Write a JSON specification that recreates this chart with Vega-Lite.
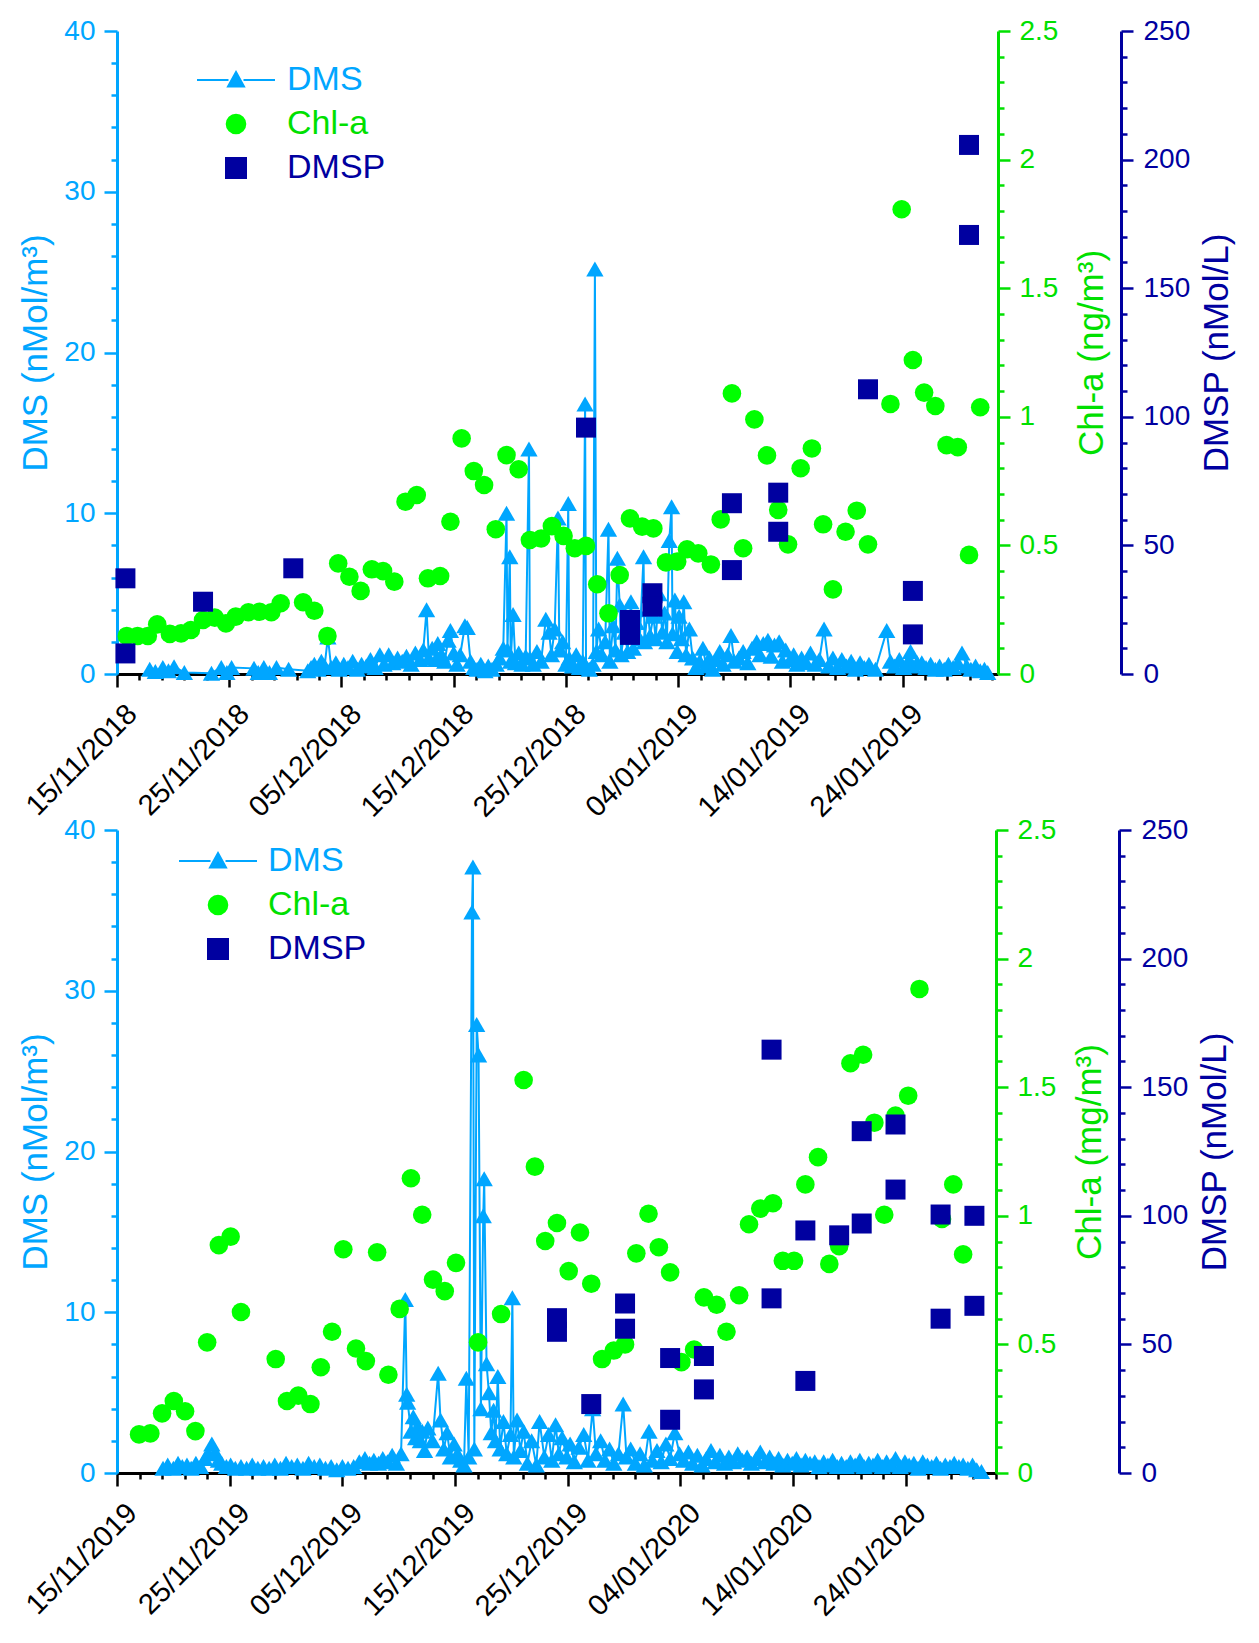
{
  "$schema": "https://vega.github.io/schema/vega-lite/v6.json",
  "background": "white",
  "padding": {"left": 18, "top": 17, "right": 5, "bottom": 5},
  "config": {
    "view": {"stroke": null},
    "font": "Liberation Sans",
    "axis": {
      "grid": false,
      "labelFont": "Liberation Sans",
      "titleFont": "Liberation Sans",
      "labelFontSize": 28,
      "titleFontSize": 35,
      "titleFontWeight": "normal",
      "domainWidth": 3,
      "tickWidth": 2.5,
      "labelOverlap": false,
      "labelFlush": false
    },
    "legend": {"labelFont": "Liberation Sans"}
  },
  "spacing": -7,
  "resolve": {"scale": {"color": "independent"}, "legend": {"color": "independent"}},
  "datasets": {
    "dmsTop": [
      {"t": "2018-11-17T22:00Z", "v": 0.3}, {"t": "2018-11-18T10:00Z", "v": 0.15}, {"t": "2018-11-19T02:00Z", "v": 0.4},
      {"t": "2018-11-19T14:00Z", "v": 0.2}, {"t": "2018-11-20T02:00Z", "v": 0.45}, {"t": "2018-11-21T00:00Z", "v": 0.1},
      {"t": "2018-11-23T10:00Z", "v": 0.05}, {"t": "2018-11-24T07:00Z", "v": 0.4}, {"t": "2018-11-24T19:00Z", "v": 0.1},
      {"t": "2018-11-25T05:00Z", "v": 0.4}, {"t": "2018-11-27T05:00Z", "v": 0.35}, {"t": "2018-11-27T14:00Z", "v": 0.1},
      {"t": "2018-11-28T02:00Z", "v": 0.4}, {"t": "2018-11-28T14:00Z", "v": 0.1}, {"t": "2018-11-29T05:00Z", "v": 0.4},
      {"t": "2018-11-30T07:00Z", "v": 0.3}, {"t": "2018-12-02T00:00Z", "v": 0.2}, {"t": "2018-12-02T07:00Z", "v": 0.4},
      {"t": "2018-12-02T14:00Z", "v": 0.6}, {"t": "2018-12-02T22:00Z", "v": 0.3}, {"t": "2018-12-03T05:00Z", "v": 0.8},
      {"t": "2018-12-03T12:00Z", "v": 0.5}, {"t": "2018-12-03T19:00Z", "v": 2.3}, {"t": "2018-12-04T02:00Z", "v": 0.4},
      {"t": "2018-12-04T12:00Z", "v": 0.7}, {"t": "2018-12-04T19:00Z", "v": 0.3}, {"t": "2018-12-05T05:00Z", "v": 0.6},
      {"t": "2018-12-05T14:00Z", "v": 0.4}, {"t": "2018-12-06T00:00Z", "v": 0.8}, {"t": "2018-12-06T10:00Z", "v": 0.3},
      {"t": "2018-12-06T19:00Z", "v": 0.6}, {"t": "2018-12-07T05:00Z", "v": 0.5}, {"t": "2018-12-07T14:00Z", "v": 0.9},
      {"t": "2018-12-08T00:00Z", "v": 0.4}, {"t": "2018-12-08T10:00Z", "v": 1.2}, {"t": "2018-12-08T19:00Z", "v": 0.6},
      {"t": "2018-12-09T05:00Z", "v": 1.2}, {"t": "2018-12-09T14:00Z", "v": 0.7}, {"t": "2018-12-10T00:00Z", "v": 1.0},
      {"t": "2018-12-10T10:00Z", "v": 0.8}, {"t": "2018-12-10T19:00Z", "v": 1.1}, {"t": "2018-12-11T05:00Z", "v": 0.6},
      {"t": "2018-12-11T14:00Z", "v": 1.3}, {"t": "2018-12-12T00:00Z", "v": 0.9}, {"t": "2018-12-12T07:00Z", "v": 1.5},
      {"t": "2018-12-12T14:00Z", "v": 4.0}, {"t": "2018-12-12T19:00Z", "v": 1.0}, {"t": "2018-12-13T02:00Z", "v": 1.6},
      {"t": "2018-12-13T10:00Z", "v": 0.9}, {"t": "2018-12-13T14:00Z", "v": 1.9}, {"t": "2018-12-13T22:00Z", "v": 1.2},
      {"t": "2018-12-14T05:00Z", "v": 0.8}, {"t": "2018-12-14T12:00Z", "v": 2.1}, {"t": "2018-12-14T17:00Z", "v": 2.7},
      {"t": "2018-12-15T00:00Z", "v": 1.3}, {"t": "2018-12-15T07:00Z", "v": 0.6}, {"t": "2018-12-15T14:00Z", "v": 1.2},
      {"t": "2018-12-16T00:00Z", "v": 3.0}, {"t": "2018-12-16T05:00Z", "v": 2.9}, {"t": "2018-12-16T12:00Z", "v": 0.8},
      {"t": "2018-12-16T19:00Z", "v": 0.4}, {"t": "2018-12-17T02:00Z", "v": 0.3}, {"t": "2018-12-17T10:00Z", "v": 0.6},
      {"t": "2018-12-17T19:00Z", "v": 0.2}, {"t": "2018-12-18T02:00Z", "v": 0.5}, {"t": "2018-12-18T10:00Z", "v": 0.3},
      {"t": "2018-12-18T19:00Z", "v": 0.6}, {"t": "2018-12-19T02:00Z", "v": 1.0}, {"t": "2018-12-19T10:00Z", "v": 1.6},
      {"t": "2018-12-19T17:00Z", "v": 10.0}, {"t": "2018-12-19T19:00Z", "v": 1.5}, {"t": "2018-12-20T00:00Z", "v": 7.3},
      {"t": "2018-12-20T02:00Z", "v": 0.8}, {"t": "2018-12-20T07:00Z", "v": 3.7}, {"t": "2018-12-20T12:00Z", "v": 0.7},
      {"t": "2018-12-20T19:00Z", "v": 1.3}, {"t": "2018-12-21T02:00Z", "v": 0.6}, {"t": "2018-12-21T10:00Z", "v": 1.1},
      {"t": "2018-12-21T17:00Z", "v": 14.0}, {"t": "2018-12-21T19:00Z", "v": 1.0}, {"t": "2018-12-22T02:00Z", "v": 0.6},
      {"t": "2018-12-22T10:00Z", "v": 1.4}, {"t": "2018-12-22T19:00Z", "v": 0.8}, {"t": "2018-12-23T05:00Z", "v": 3.4},
      {"t": "2018-12-23T12:00Z", "v": 2.6}, {"t": "2018-12-23T17:00Z", "v": 1.2}, {"t": "2018-12-24T00:00Z", "v": 2.8},
      {"t": "2018-12-24T07:00Z", "v": 9.7}, {"t": "2018-12-24T10:00Z", "v": 1.5}, {"t": "2018-12-24T17:00Z", "v": 2.0},
      {"t": "2018-12-25T00:00Z", "v": 0.6}, {"t": "2018-12-25T05:00Z", "v": 10.6}, {"t": "2018-12-25T07:00Z", "v": 1.0},
      {"t": "2018-12-25T14:00Z", "v": 0.5}, {"t": "2018-12-25T22:00Z", "v": 1.2}, {"t": "2018-12-26T05:00Z", "v": 0.4},
      {"t": "2018-12-26T12:00Z", "v": 0.8}, {"t": "2018-12-26T17:00Z", "v": 16.8}, {"t": "2018-12-26T19:00Z", "v": 0.5},
      {"t": "2018-12-27T02:00Z", "v": 0.3}, {"t": "2018-12-27T10:00Z", "v": 0.6}, {"t": "2018-12-27T14:00Z", "v": 25.2},
      {"t": "2018-12-27T17:00Z", "v": 1.4}, {"t": "2018-12-27T22:00Z", "v": 2.8}, {"t": "2018-12-28T05:00Z", "v": 1.2},
      {"t": "2018-12-28T12:00Z", "v": 2.0}, {"t": "2018-12-28T19:00Z", "v": 9.0}, {"t": "2018-12-28T22:00Z", "v": 0.8},
      {"t": "2018-12-29T05:00Z", "v": 3.0}, {"t": "2018-12-29T10:00Z", "v": 1.5}, {"t": "2018-12-29T14:00Z", "v": 7.2},
      {"t": "2018-12-29T19:00Z", "v": 4.3}, {"t": "2018-12-29T22:00Z", "v": 1.2}, {"t": "2018-12-30T05:00Z", "v": 2.6},
      {"t": "2018-12-30T12:00Z", "v": 1.4}, {"t": "2018-12-30T19:00Z", "v": 4.5}, {"t": "2018-12-31T00:00Z", "v": 1.6},
      {"t": "2018-12-31T07:00Z", "v": 3.2}, {"t": "2018-12-31T14:00Z", "v": 2.2}, {"t": "2018-12-31T22:00Z", "v": 7.3},
      {"t": "2019-01-01T00:00Z", "v": 2.0}, {"t": "2019-01-01T07:00Z", "v": 4.0}, {"t": "2019-01-01T12:00Z", "v": 2.4},
      {"t": "2019-01-01T19:00Z", "v": 3.6}, {"t": "2019-01-02T00:00Z", "v": 2.2}, {"t": "2019-01-02T07:00Z", "v": 5.0},
      {"t": "2019-01-02T14:00Z", "v": 2.6}, {"t": "2019-01-02T19:00Z", "v": 3.8}, {"t": "2019-01-03T00:00Z", "v": 2.0},
      {"t": "2019-01-03T05:00Z", "v": 8.3}, {"t": "2019-01-03T10:00Z", "v": 10.4}, {"t": "2019-01-03T12:00Z", "v": 2.5},
      {"t": "2019-01-03T17:00Z", "v": 4.6}, {"t": "2019-01-03T22:00Z", "v": 1.4}, {"t": "2019-01-04T02:00Z", "v": 3.6},
      {"t": "2019-01-04T07:00Z", "v": 2.2}, {"t": "2019-01-04T12:00Z", "v": 4.5}, {"t": "2019-01-04T17:00Z", "v": 1.2},
      {"t": "2019-01-05T00:00Z", "v": 2.8}, {"t": "2019-01-05T07:00Z", "v": 1.0}, {"t": "2019-01-05T14:00Z", "v": 0.4},
      {"t": "2019-01-05T22:00Z", "v": 0.8}, {"t": "2019-01-06T05:00Z", "v": 1.6}, {"t": "2019-01-06T12:00Z", "v": 0.5},
      {"t": "2019-01-06T19:00Z", "v": 1.0}, {"t": "2019-01-07T02:00Z", "v": 0.3}, {"t": "2019-01-07T10:00Z", "v": 0.9},
      {"t": "2019-01-07T17:00Z", "v": 1.4}, {"t": "2019-01-08T00:00Z", "v": 0.6}, {"t": "2019-01-08T10:00Z", "v": 1.2},
      {"t": "2019-01-08T17:00Z", "v": 2.4}, {"t": "2019-01-09T00:00Z", "v": 0.8}, {"t": "2019-01-09T10:00Z", "v": 1.0},
      {"t": "2019-01-09T19:00Z", "v": 1.4}, {"t": "2019-01-10T05:00Z", "v": 0.7}, {"t": "2019-01-10T14:00Z", "v": 1.6},
      {"t": "2019-01-11T00:00Z", "v": 2.0}, {"t": "2019-01-11T07:00Z", "v": 1.2}, {"t": "2019-01-11T14:00Z", "v": 1.9},
      {"t": "2019-01-12T00:00Z", "v": 2.1}, {"t": "2019-01-12T07:00Z", "v": 1.1}, {"t": "2019-01-12T14:00Z", "v": 1.8},
      {"t": "2019-01-13T00:00Z", "v": 2.0}, {"t": "2019-01-13T07:00Z", "v": 0.8}, {"t": "2019-01-13T14:00Z", "v": 1.5},
      {"t": "2019-01-14T00:00Z", "v": 0.9}, {"t": "2019-01-14T07:00Z", "v": 1.2}, {"t": "2019-01-14T14:00Z", "v": 0.6},
      {"t": "2019-01-15T00:00Z", "v": 1.0}, {"t": "2019-01-15T10:00Z", "v": 0.7}, {"t": "2019-01-15T19:00Z", "v": 1.3},
      {"t": "2019-01-16T05:00Z", "v": 0.6}, {"t": "2019-01-16T14:00Z", "v": 0.9}, {"t": "2019-01-17T00:00Z", "v": 2.8},
      {"t": "2019-01-17T10:00Z", "v": 0.5}, {"t": "2019-01-17T19:00Z", "v": 1.0}, {"t": "2019-01-18T05:00Z", "v": 0.4},
      {"t": "2019-01-18T14:00Z", "v": 0.9}, {"t": "2019-01-19T00:00Z", "v": 0.5}, {"t": "2019-01-19T10:00Z", "v": 0.8},
      {"t": "2019-01-19T19:00Z", "v": 0.3}, {"t": "2019-01-20T05:00Z", "v": 0.7}, {"t": "2019-01-20T14:00Z", "v": 0.4},
      {"t": "2019-01-21T00:00Z", "v": 0.6}, {"t": "2019-01-21T14:00Z", "v": 0.3}, {"t": "2019-01-22T14:00Z", "v": 2.7},
      {"t": "2019-01-22T22:00Z", "v": 0.8}, {"t": "2019-01-23T07:00Z", "v": 0.5}, {"t": "2019-01-23T17:00Z", "v": 0.9},
      {"t": "2019-01-24T02:00Z", "v": 0.4}, {"t": "2019-01-24T12:00Z", "v": 0.8}, {"t": "2019-01-24T17:00Z", "v": 1.4},
      {"t": "2019-01-24T22:00Z", "v": 0.5}, {"t": "2019-01-25T07:00Z", "v": 0.7}, {"t": "2019-01-25T17:00Z", "v": 0.7},
      {"t": "2019-01-26T02:00Z", "v": 0.4}, {"t": "2019-01-26T12:00Z", "v": 0.6}, {"t": "2019-01-26T22:00Z", "v": 0.3},
      {"t": "2019-01-27T07:00Z", "v": 0.5}, {"t": "2019-01-27T17:00Z", "v": 0.3}, {"t": "2019-01-28T02:00Z", "v": 0.6},
      {"t": "2019-01-28T12:00Z", "v": 0.4}, {"t": "2019-01-28T22:00Z", "v": 0.7}, {"t": "2019-01-29T07:00Z", "v": 1.3},
      {"t": "2019-01-29T17:00Z", "v": 0.5}, {"t": "2019-01-30T02:00Z", "v": 0.3}, {"t": "2019-01-30T12:00Z", "v": 0.5},
      {"t": "2019-01-30T22:00Z", "v": 0.2}, {"t": "2019-01-31T07:00Z", "v": 0.3}, {"t": "2019-01-31T14:00Z", "v": 0.1}
    ],
    "chlTop": [
      {"t": "2018-11-15T21:00Z", "v": 0.148}, {"t": "2018-11-16T20:00Z", "v": 0.148}, {"t": "2018-11-17T18:00Z", "v": 0.148},
      {"t": "2018-11-18T14:00Z", "v": 0.193}, {"t": "2018-11-19T17:00Z", "v": 0.156}, {"t": "2018-11-20T17:00Z", "v": 0.158},
      {"t": "2018-11-21T14:00Z", "v": 0.171}, {"t": "2018-11-22T16:00Z", "v": 0.21}, {"t": "2018-11-23T17:00Z", "v": 0.219},
      {"t": "2018-11-24T17:00Z", "v": 0.197}, {"t": "2018-11-25T14:00Z", "v": 0.223}, {"t": "2018-11-26T17:00Z", "v": 0.24},
      {"t": "2018-11-27T17:00Z", "v": 0.242}, {"t": "2018-11-28T18:00Z", "v": 0.24}, {"t": "2018-11-29T14:00Z", "v": 0.275},
      {"t": "2018-12-01T14:00Z", "v": 0.279}, {"t": "2018-12-02T14:00Z", "v": 0.246}, {"t": "2018-12-03T18:00Z", "v": 0.148},
      {"t": "2018-12-04T17:00Z", "v": 0.43}, {"t": "2018-12-05T17:00Z", "v": 0.378}, {"t": "2018-12-06T17:00Z", "v": 0.323},
      {"t": "2018-12-07T17:00Z", "v": 0.407}, {"t": "2018-12-08T17:00Z", "v": 0.4}, {"t": "2018-12-09T17:00Z", "v": 0.359},
      {"t": "2018-12-10T17:00Z", "v": 0.67}, {"t": "2018-12-11T17:00Z", "v": 0.696}, {"t": "2018-12-12T17:00Z", "v": 0.372},
      {"t": "2018-12-13T19:00Z", "v": 0.381}, {"t": "2018-12-14T17:00Z", "v": 0.592}, {"t": "2018-12-15T17:00Z", "v": 0.916},
      {"t": "2018-12-16T19:00Z", "v": 0.789}, {"t": "2018-12-17T17:00Z", "v": 0.735}, {"t": "2018-12-18T18:00Z", "v": 0.563},
      {"t": "2018-12-19T17:00Z", "v": 0.851}, {"t": "2018-12-20T19:00Z", "v": 0.796}, {"t": "2018-12-21T19:00Z", "v": 0.521},
      {"t": "2018-12-22T19:00Z", "v": 0.527}, {"t": "2018-12-23T18:00Z", "v": 0.575}, {"t": "2018-12-24T19:00Z", "v": 0.537},
      {"t": "2018-12-25T19:00Z", "v": 0.489}, {"t": "2018-12-26T19:00Z", "v": 0.498}, {"t": "2018-12-27T19:00Z", "v": 0.349},
      {"t": "2018-12-28T19:00Z", "v": 0.236}, {"t": "2018-12-29T19:00Z", "v": 0.385}, {"t": "2018-12-30T17:00Z", "v": 0.605},
      {"t": "2018-12-31T19:00Z", "v": 0.573}, {"t": "2019-01-01T19:00Z", "v": 0.566}, {"t": "2019-01-02T22:00Z", "v": 0.434},
      {"t": "2019-01-03T22:00Z", "v": 0.437}, {"t": "2019-01-04T19:00Z", "v": 0.485}, {"t": "2019-01-05T19:00Z", "v": 0.469},
      {"t": "2019-01-06T22:00Z", "v": 0.426}, {"t": "2019-01-07T19:00Z", "v": 0.601}, {"t": "2019-01-08T19:00Z", "v": 1.091},
      {"t": "2019-01-09T19:00Z", "v": 0.489}, {"t": "2019-01-10T19:00Z", "v": 0.99}, {"t": "2019-01-11T22:00Z", "v": 0.85},
      {"t": "2019-01-12T22:00Z", "v": 0.638}, {"t": "2019-01-13T19:00Z", "v": 0.504}, {"t": "2019-01-14T22:00Z", "v": 0.8},
      {"t": "2019-01-15T22:00Z", "v": 0.877}, {"t": "2019-01-16T22:00Z", "v": 0.582}, {"t": "2019-01-17T19:00Z", "v": 0.329},
      {"t": "2019-01-18T22:00Z", "v": 0.553}, {"t": "2019-01-19T22:00Z", "v": 0.635}, {"t": "2019-01-20T22:00Z", "v": 0.504},
      {"t": "2019-01-22T22:00Z", "v": 1.05}, {"t": "2019-01-23T22:00Z", "v": 1.807}, {"t": "2019-01-24T22:00Z", "v": 1.221},
      {"t": "2019-01-25T22:00Z", "v": 1.094}, {"t": "2019-01-26T22:00Z", "v": 1.042}, {"t": "2019-01-27T22:00Z", "v": 0.89},
      {"t": "2019-01-28T22:00Z", "v": 0.882}, {"t": "2019-01-29T22:00Z", "v": 0.463}, {"t": "2019-01-30T22:00Z", "v": 1.037}
    ],
    "dmspTop": [
      {"t": "2018-11-15T18:00Z", "v": 37.2}, {"t": "2018-11-15T18:00Z", "v": 8.0}, {"t": "2018-11-22T16:00Z", "v": 28.1},
      {"t": "2018-11-30T17:00Z", "v": 41.1}, {"t": "2018-12-26T19:00Z", "v": 95.8}, {"t": "2018-12-30T17:00Z", "v": 21},
      {"t": "2018-12-30T17:00Z", "v": 15.2}, {"t": "2019-01-01T17:00Z", "v": 31.4}, {"t": "2019-01-01T17:00Z", "v": 26.2},
      {"t": "2019-01-08T19:00Z", "v": 66.4}, {"t": "2019-01-08T19:00Z", "v": 40.4}, {"t": "2019-01-12T22:00Z", "v": 70.5},
      {"t": "2019-01-12T22:00Z", "v": 55.3}, {"t": "2019-01-20T22:00Z", "v": 110.7}, {"t": "2019-01-24T22:00Z", "v": 32.3},
      {"t": "2019-01-24T22:00Z", "v": 15.4}, {"t": "2019-01-29T22:00Z", "v": 205.7}, {"t": "2019-01-29T22:00Z", "v": 170.7}
    ],
    "dmsBot": [
      {"t": "2019-11-19T02:00Z", "v": 0.3}, {"t": "2019-11-19T12:00Z", "v": 0.5}, {"t": "2019-11-20T00:00Z", "v": 0.3},
      {"t": "2019-11-20T10:00Z", "v": 0.6}, {"t": "2019-11-20T19:00Z", "v": 0.4}, {"t": "2019-11-21T05:00Z", "v": 0.5},
      {"t": "2019-11-21T14:00Z", "v": 0.3}, {"t": "2019-11-22T00:00Z", "v": 0.6}, {"t": "2019-11-22T10:00Z", "v": 0.4},
      {"t": "2019-11-22T19:00Z", "v": 0.9}, {"t": "2019-11-23T02:00Z", "v": 1.2}, {"t": "2019-11-23T10:00Z", "v": 1.8},
      {"t": "2019-11-23T17:00Z", "v": 1.3}, {"t": "2019-11-24T00:00Z", "v": 0.8}, {"t": "2019-11-24T07:00Z", "v": 0.6},
      {"t": "2019-11-24T17:00Z", "v": 0.4}, {"t": "2019-11-25T02:00Z", "v": 0.5}, {"t": "2019-11-25T12:00Z", "v": 0.3},
      {"t": "2019-11-26T00:00Z", "v": 0.4}, {"t": "2019-11-26T12:00Z", "v": 0.3}, {"t": "2019-11-27T00:00Z", "v": 0.5},
      {"t": "2019-11-27T12:00Z", "v": 0.3}, {"t": "2019-11-28T00:00Z", "v": 0.4}, {"t": "2019-11-28T12:00Z", "v": 0.3},
      {"t": "2019-11-29T00:00Z", "v": 0.5}, {"t": "2019-11-29T12:00Z", "v": 0.3}, {"t": "2019-11-30T00:00Z", "v": 0.6},
      {"t": "2019-11-30T12:00Z", "v": 0.4}, {"t": "2019-12-01T00:00Z", "v": 0.5}, {"t": "2019-12-01T12:00Z", "v": 0.3},
      {"t": "2019-12-02T00:00Z", "v": 0.6}, {"t": "2019-12-02T12:00Z", "v": 0.4}, {"t": "2019-12-03T00:00Z", "v": 0.5},
      {"t": "2019-12-03T12:00Z", "v": 0.3}, {"t": "2019-12-04T00:00Z", "v": 0.4}, {"t": "2019-12-04T12:00Z", "v": 0.2},
      {"t": "2019-12-05T00:00Z", "v": 0.4}, {"t": "2019-12-05T12:00Z", "v": 0.3}, {"t": "2019-12-06T00:00Z", "v": 0.4},
      {"t": "2019-12-06T12:00Z", "v": 0.7}, {"t": "2019-12-07T00:00Z", "v": 0.9}, {"t": "2019-12-07T10:00Z", "v": 0.6},
      {"t": "2019-12-07T19:00Z", "v": 0.8}, {"t": "2019-12-08T05:00Z", "v": 0.6}, {"t": "2019-12-08T14:00Z", "v": 0.9},
      {"t": "2019-12-09T00:00Z", "v": 0.7}, {"t": "2019-12-09T10:00Z", "v": 1.1}, {"t": "2019-12-09T19:00Z", "v": 0.6},
      {"t": "2019-12-10T05:00Z", "v": 1.2}, {"t": "2019-12-10T14:00Z", "v": 10.8}, {"t": "2019-12-10T17:00Z", "v": 4.9},
      {"t": "2019-12-10T19:00Z", "v": 4.4}, {"t": "2019-12-11T02:00Z", "v": 2.6}, {"t": "2019-12-11T07:00Z", "v": 3.5},
      {"t": "2019-12-11T12:00Z", "v": 2.2}, {"t": "2019-12-11T17:00Z", "v": 2.9}, {"t": "2019-12-11T22:00Z", "v": 2.0},
      {"t": "2019-12-12T02:00Z", "v": 2.6}, {"t": "2019-12-12T07:00Z", "v": 1.4}, {"t": "2019-12-12T14:00Z", "v": 2.8},
      {"t": "2019-12-13T00:00Z", "v": 2.0}, {"t": "2019-12-13T12:00Z", "v": 6.2}, {"t": "2019-12-13T17:00Z", "v": 3.3},
      {"t": "2019-12-14T00:00Z", "v": 1.5}, {"t": "2019-12-14T07:00Z", "v": 2.5}, {"t": "2019-12-14T14:00Z", "v": 1.0},
      {"t": "2019-12-14T22:00Z", "v": 1.8}, {"t": "2019-12-15T05:00Z", "v": 1.2}, {"t": "2019-12-15T12:00Z", "v": 0.8},
      {"t": "2019-12-15T19:00Z", "v": 0.5}, {"t": "2019-12-16T00:00Z", "v": 5.9}, {"t": "2019-12-16T05:00Z", "v": 1.0},
      {"t": "2019-12-16T12:00Z", "v": 34.9}, {"t": "2019-12-16T14:00Z", "v": 37.7}, {"t": "2019-12-16T17:00Z", "v": 1.5},
      {"t": "2019-12-16T22:00Z", "v": 27.9}, {"t": "2019-12-17T02:00Z", "v": 26.0}, {"t": "2019-12-17T07:00Z", "v": 4.0},
      {"t": "2019-12-17T12:00Z", "v": 16.0}, {"t": "2019-12-17T14:00Z", "v": 18.3}, {"t": "2019-12-17T19:00Z", "v": 6.8},
      {"t": "2019-12-18T00:00Z", "v": 5.0}, {"t": "2019-12-18T05:00Z", "v": 2.5}, {"t": "2019-12-18T10:00Z", "v": 3.9},
      {"t": "2019-12-18T14:00Z", "v": 2.0}, {"t": "2019-12-18T19:00Z", "v": 6.0}, {"t": "2019-12-19T00:00Z", "v": 1.5},
      {"t": "2019-12-19T07:00Z", "v": 3.2}, {"t": "2019-12-19T14:00Z", "v": 1.2}, {"t": "2019-12-19T22:00Z", "v": 2.4},
      {"t": "2019-12-20T02:00Z", "v": 10.9}, {"t": "2019-12-20T05:00Z", "v": 1.0}, {"t": "2019-12-20T12:00Z", "v": 3.3},
      {"t": "2019-12-20T19:00Z", "v": 1.4}, {"t": "2019-12-21T02:00Z", "v": 2.6}, {"t": "2019-12-21T10:00Z", "v": 0.6},
      {"t": "2019-12-21T19:00Z", "v": 2.0}, {"t": "2019-12-22T05:00Z", "v": 0.5}, {"t": "2019-12-22T12:00Z", "v": 3.2},
      {"t": "2019-12-22T22:00Z", "v": 1.0}, {"t": "2019-12-23T07:00Z", "v": 2.4}, {"t": "2019-12-23T14:00Z", "v": 0.8},
      {"t": "2019-12-23T22:00Z", "v": 3.0}, {"t": "2019-12-24T05:00Z", "v": 1.2}, {"t": "2019-12-24T12:00Z", "v": 2.2},
      {"t": "2019-12-24T22:00Z", "v": 1.0}, {"t": "2019-12-25T05:00Z", "v": 1.8}, {"t": "2019-12-25T14:00Z", "v": 0.7},
      {"t": "2019-12-26T00:00Z", "v": 1.6}, {"t": "2019-12-26T10:00Z", "v": 2.4}, {"t": "2019-12-26T19:00Z", "v": 0.8},
      {"t": "2019-12-27T05:00Z", "v": 4.0}, {"t": "2019-12-27T12:00Z", "v": 1.2}, {"t": "2019-12-27T22:00Z", "v": 2.0},
      {"t": "2019-12-28T07:00Z", "v": 0.8}, {"t": "2019-12-28T17:00Z", "v": 1.5}, {"t": "2019-12-29T02:00Z", "v": 0.6},
      {"t": "2019-12-29T12:00Z", "v": 1.2}, {"t": "2019-12-29T22:00Z", "v": 4.3}, {"t": "2019-12-30T05:00Z", "v": 1.0},
      {"t": "2019-12-30T14:00Z", "v": 1.5}, {"t": "2019-12-31T00:00Z", "v": 0.6}, {"t": "2019-12-31T10:00Z", "v": 1.2},
      {"t": "2019-12-31T19:00Z", "v": 0.5}, {"t": "2020-01-01T05:00Z", "v": 2.6}, {"t": "2020-01-01T12:00Z", "v": 0.8},
      {"t": "2020-01-01T22:00Z", "v": 1.4}, {"t": "2020-01-02T07:00Z", "v": 0.7}, {"t": "2020-01-02T17:00Z", "v": 1.8},
      {"t": "2020-01-03T02:00Z", "v": 0.9}, {"t": "2020-01-03T12:00Z", "v": 2.5}, {"t": "2020-01-03T22:00Z", "v": 1.2},
      {"t": "2020-01-04T07:00Z", "v": 0.8}, {"t": "2020-01-04T17:00Z", "v": 1.3}, {"t": "2020-01-05T02:00Z", "v": 0.6},
      {"t": "2020-01-05T12:00Z", "v": 1.1}, {"t": "2020-01-05T22:00Z", "v": 0.5}, {"t": "2020-01-06T07:00Z", "v": 0.9},
      {"t": "2020-01-06T17:00Z", "v": 1.4}, {"t": "2020-01-07T02:00Z", "v": 0.7}, {"t": "2020-01-07T12:00Z", "v": 1.1},
      {"t": "2020-01-07T22:00Z", "v": 0.6}, {"t": "2020-01-08T07:00Z", "v": 1.0}, {"t": "2020-01-08T17:00Z", "v": 0.7},
      {"t": "2020-01-09T02:00Z", "v": 1.2}, {"t": "2020-01-09T12:00Z", "v": 0.8}, {"t": "2020-01-09T22:00Z", "v": 1.0},
      {"t": "2020-01-10T07:00Z", "v": 0.6}, {"t": "2020-01-10T17:00Z", "v": 0.9}, {"t": "2020-01-11T02:00Z", "v": 1.3},
      {"t": "2020-01-11T12:00Z", "v": 0.7}, {"t": "2020-01-11T22:00Z", "v": 1.0}, {"t": "2020-01-12T07:00Z", "v": 0.6},
      {"t": "2020-01-12T17:00Z", "v": 0.9}, {"t": "2020-01-13T02:00Z", "v": 0.5}, {"t": "2020-01-13T12:00Z", "v": 0.8},
      {"t": "2020-01-13T22:00Z", "v": 0.6}, {"t": "2020-01-14T07:00Z", "v": 0.9}, {"t": "2020-01-14T17:00Z", "v": 0.5},
      {"t": "2020-01-15T02:00Z", "v": 0.8}, {"t": "2020-01-15T12:00Z", "v": 0.6}, {"t": "2020-01-15T22:00Z", "v": 0.7},
      {"t": "2020-01-16T07:00Z", "v": 0.4}, {"t": "2020-01-16T17:00Z", "v": 0.7}, {"t": "2020-01-17T02:00Z", "v": 0.5},
      {"t": "2020-01-17T12:00Z", "v": 0.8}, {"t": "2020-01-17T22:00Z", "v": 0.4}, {"t": "2020-01-18T07:00Z", "v": 0.6},
      {"t": "2020-01-18T17:00Z", "v": 0.4}, {"t": "2020-01-19T02:00Z", "v": 0.7}, {"t": "2020-01-19T12:00Z", "v": 0.5},
      {"t": "2020-01-19T22:00Z", "v": 0.8}, {"t": "2020-01-20T07:00Z", "v": 0.4}, {"t": "2020-01-20T17:00Z", "v": 0.6},
      {"t": "2020-01-21T02:00Z", "v": 0.5}, {"t": "2020-01-21T12:00Z", "v": 0.8}, {"t": "2020-01-21T22:00Z", "v": 0.4},
      {"t": "2020-01-22T07:00Z", "v": 0.7}, {"t": "2020-01-22T17:00Z", "v": 0.5}, {"t": "2020-01-23T02:00Z", "v": 0.9},
      {"t": "2020-01-23T12:00Z", "v": 0.4}, {"t": "2020-01-23T22:00Z", "v": 0.7}, {"t": "2020-01-24T07:00Z", "v": 0.5},
      {"t": "2020-01-24T17:00Z", "v": 0.6}, {"t": "2020-01-25T02:00Z", "v": 0.3}, {"t": "2020-01-25T12:00Z", "v": 0.7},
      {"t": "2020-01-25T22:00Z", "v": 0.5}, {"t": "2020-01-26T07:00Z", "v": 0.4}, {"t": "2020-01-26T17:00Z", "v": 0.6},
      {"t": "2020-01-27T02:00Z", "v": 0.3}, {"t": "2020-01-27T12:00Z", "v": 0.5}, {"t": "2020-01-27T22:00Z", "v": 0.4},
      {"t": "2020-01-28T07:00Z", "v": 0.6}, {"t": "2020-01-28T17:00Z", "v": 0.4}, {"t": "2020-01-29T02:00Z", "v": 0.5},
      {"t": "2020-01-29T12:00Z", "v": 0.3}, {"t": "2020-01-29T22:00Z", "v": 0.5}, {"t": "2020-01-30T07:00Z", "v": 0.2},
      {"t": "2020-01-30T17:00Z", "v": 0.1}
    ],
    "chlBot": [
      {"t": "2019-11-16T23:00Z", "v": 0.15}, {"t": "2019-11-17T23:00Z", "v": 0.154}, {"t": "2019-11-19T00:00Z", "v": 0.232},
      {"t": "2019-11-20T01:00Z", "v": 0.28}, {"t": "2019-11-21T01:00Z", "v": 0.24}, {"t": "2019-11-21T23:00Z", "v": 0.163},
      {"t": "2019-11-23T00:00Z", "v": 0.508}, {"t": "2019-11-24T01:00Z", "v": 0.886}, {"t": "2019-11-25T02:00Z", "v": 0.919},
      {"t": "2019-11-26T00:00Z", "v": 0.626}, {"t": "2019-11-29T02:00Z", "v": 0.443}, {"t": "2019-11-30T02:00Z", "v": 0.28},
      {"t": "2019-12-01T02:00Z", "v": 0.301}, {"t": "2019-12-02T04:00Z", "v": 0.268}, {"t": "2019-12-03T02:00Z", "v": 0.411},
      {"t": "2019-12-04T02:00Z", "v": 0.549}, {"t": "2019-12-05T02:00Z", "v": 0.87}, {"t": "2019-12-06T05:00Z", "v": 0.484},
      {"t": "2019-12-07T02:00Z", "v": 0.435}, {"t": "2019-12-08T02:00Z", "v": 0.858}, {"t": "2019-12-09T02:00Z", "v": 0.382},
      {"t": "2019-12-10T02:00Z", "v": 0.638}, {"t": "2019-12-11T02:00Z", "v": 1.146}, {"t": "2019-12-12T02:00Z", "v": 1.004},
      {"t": "2019-12-13T01:00Z", "v": 0.752}, {"t": "2019-12-14T02:00Z", "v": 0.707}, {"t": "2019-12-15T02:00Z", "v": 0.817},
      {"t": "2019-12-17T01:00Z", "v": 0.508}, {"t": "2019-12-19T02:00Z", "v": 0.618}, {"t": "2019-12-21T02:00Z", "v": 1.528},
      {"t": "2019-12-22T02:00Z", "v": 1.191}, {"t": "2019-12-23T00:00Z", "v": 0.902}, {"t": "2019-12-24T01:00Z", "v": 0.972},
      {"t": "2019-12-25T02:00Z", "v": 0.785}, {"t": "2019-12-26T02:00Z", "v": 0.935}, {"t": "2019-12-27T02:00Z", "v": 0.736},
      {"t": "2019-12-28T01:00Z", "v": 0.443}, {"t": "2019-12-29T02:00Z", "v": 0.476}, {"t": "2019-12-30T02:00Z", "v": 0.5},
      {"t": "2019-12-31T02:00Z", "v": 0.854}, {"t": "2020-01-01T04:00Z", "v": 1.008}, {"t": "2020-01-02T02:00Z", "v": 0.878},
      {"t": "2020-01-03T02:00Z", "v": 0.78}, {"t": "2020-01-04T02:00Z", "v": 0.431}, {"t": "2020-01-05T05:00Z", "v": 0.48},
      {"t": "2020-01-06T02:00Z", "v": 0.683}, {"t": "2020-01-07T05:00Z", "v": 0.654}, {"t": "2020-01-08T02:00Z", "v": 0.549},
      {"t": "2020-01-09T05:00Z", "v": 0.691}, {"t": "2020-01-10T02:00Z", "v": 0.967}, {"t": "2020-01-11T02:00Z", "v": 1.028},
      {"t": "2020-01-12T05:00Z", "v": 1.049}, {"t": "2020-01-13T02:00Z", "v": 0.825}, {"t": "2020-01-14T02:00Z", "v": 0.825},
      {"t": "2020-01-15T02:00Z", "v": 1.122}, {"t": "2020-01-16T05:00Z", "v": 1.228}, {"t": "2020-01-17T05:00Z", "v": 0.813},
      {"t": "2020-01-18T02:00Z", "v": 0.882}, {"t": "2020-01-19T02:00Z", "v": 1.593}, {"t": "2020-01-20T05:00Z", "v": 1.626},
      {"t": "2020-01-21T05:00Z", "v": 1.362}, {"t": "2020-01-22T02:00Z", "v": 1.004}, {"t": "2020-01-23T02:00Z", "v": 1.39},
      {"t": "2020-01-24T05:00Z", "v": 1.467}, {"t": "2020-01-25T05:00Z", "v": 1.882}, {"t": "2020-01-27T05:00Z", "v": 0.988},
      {"t": "2020-01-28T05:00Z", "v": 1.122}, {"t": "2020-01-29T02:00Z", "v": 0.85}
    ],
    "dmspBot": [
      {"t": "2019-12-24T01:00Z", "v": 60.2}, {"t": "2019-12-24T01:00Z", "v": 54.9}, {"t": "2019-12-27T02:00Z", "v": 26.8},
      {"t": "2019-12-30T02:00Z", "v": 65.9}, {"t": "2019-12-30T02:00Z", "v": 56.1}, {"t": "2020-01-03T02:00Z", "v": 44.7},
      {"t": "2020-01-03T02:00Z", "v": 20.7}, {"t": "2020-01-06T02:00Z", "v": 45.5}, {"t": "2020-01-06T02:00Z", "v": 32.5},
      {"t": "2020-01-12T02:00Z", "v": 164.6}, {"t": "2020-01-12T02:00Z", "v": 67.9}, {"t": "2020-01-15T02:00Z", "v": 94.3},
      {"t": "2020-01-15T02:00Z", "v": 35.8}, {"t": "2020-01-18T02:00Z", "v": 92.4}, {"t": "2020-01-20T02:00Z", "v": 132.9},
      {"t": "2020-01-20T02:00Z", "v": 97.0}, {"t": "2020-01-23T02:00Z", "v": 135.5}, {"t": "2020-01-23T02:00Z", "v": 110.2},
      {"t": "2020-01-27T02:00Z", "v": 100.5}, {"t": "2020-01-27T02:00Z", "v": 60.0}, {"t": "2020-01-30T02:00Z", "v": 100},
      {"t": "2020-01-30T02:00Z", "v": 65}
    ]
  },
  "vconcat": [
    {
      "width": 881,
      "height": 643,
      "encoding": {
        "x": {
          "field": "t",
          "type": "temporal",
          "scale": {"type": "utc", "domain": ["2018-11-15T00:00Z", "2019-02-01T12:00Z"]},
          "axis": {
            "title": null,
            "values": [1542240000000, 1542412800000, 1542585600000, 1542758400000, 1542931200000, 1543104000000, 1543276800000, 1543449600000, 1543622400000, 1543795200000, 1543968000000, 1544140800000, 1544313600000, 1544486400000, 1544659200000, 1544832000000, 1545004800000, 1545177600000, 1545350400000, 1545523200000, 1545696000000, 1545868800000, 1546041600000, 1546214400000, 1546387200000, 1546560000000, 1546732800000, 1546905600000, 1547078400000, 1547251200000, 1547424000000, 1547596800000, 1547769600000, 1547942400000, 1548115200000, 1548288000000, 1548460800000, 1548633600000, 1548806400000, 1548979200000],
            "labelExpr": "(datum.value - 1542240000000) % 864000000 === 0 ? utcFormat(datum.value, '%d/%m/%Y') : ''",
            "tickSize": {"condition": {"test": "(datum.value - 1542240000000) % 864000000 === 0", "value": 13}, "value": 6},
            "labelAngle": -45,
            "labelFontSize": 29,
            "labelPadding": 12,
            "labelOffset": 5,
            "domainColor": "black",
            "tickColor": "black",
            "labelColor": "black"
          }
        }
      },
      "layer": [
        {
          "data": {"name": "dmsTop"},
          "encoding": {
            "y": {
              "field": "v",
              "type": "quantitative",
              "scale": {"domain": [0, 40], "nice": false},
              "axis": {
                "orient": "left",
                "title": "DMS (nMol/m³)",
                "values": [0, 2, 4, 6, 8, 10, 12, 14, 16, 18, 20, 22, 24, 26, 28, 30, 32, 34, 36, 38, 40],
                "labelExpr": "datum.value % 10 === 0 ? format(datum.value, '~g') : ''",
                "tickSize": {"condition": {"test": "datum.value % 10 === 0", "value": 13}, "value": 6},
                "labelPadding": 9,
                "titlePadding": 10,
                "domainColor": "#00A6FF",
                "tickColor": "#00A6FF",
                "labelColor": "#00A6FF",
                "titleColor": "#00A6FF"
              }
            },
            "color": {
              "datum": "DMS",
              "type": "nominal",
              "scale": {"domain": ["DMS", "Chl-a", "DMSP"], "range": ["#00A6FF", "#00FF00", "#0000A0"]},
              "legend": {
                "title": null,
                "orient": "none",
                "legendX": 102,
                "legendY": 32,
                "labelFontSize": 34,
                "labelOffset": 34,
                "rowPadding": 10,
                "encode": {
                  "symbols": {
                    "update": {
                      "shape": {"signal": "datum.value === 'DMS' ? 'M-3.9,0H-0.75M0.75,0H3.9M0,-0.8L0.8,0.65L-0.8,0.65Z' : datum.value === 'Chl-a' ? 'circle' : 'square'"},
                      "size": {"signal": "datum.value === 'Chl-a' ? 346 : 400"},
                      "fill": {"signal": "datum.value === 'DMS' ? '#00A6FF' : datum.value === 'Chl-a' ? '#00FF00' : '#0000A0'"},
                      "stroke": {"signal": "datum.value === 'DMS' ? '#00A6FF' : 'transparent'"},
                      "strokeWidth": {"value": 2},
                      "opacity": {"value": 1}
                    }
                  },
                  "labels": {
                    "update": {
                      "fill": {"signal": "datum.value === 'DMS' ? '#00A6FF' : datum.value === 'Chl-a' ? '#00E000' : '#0000A0'"}
                    }
                  }
                }
              }
            }
          },
          "layer": [
            {"mark": {"type": "line", "strokeWidth": 2}},
            {"mark": {"type": "point", "shape": "triangle-up", "filled": true, "size": 300, "opacity": 1}}
          ]
        },
        {
          "data": {"name": "chlTop"},
          "mark": {"type": "circle", "size": 346, "opacity": 1},
          "encoding": {
            "y": {
              "field": "v",
              "type": "quantitative",
              "scale": {"domain": [0, 2.5], "nice": false},
              "axis": {
                "orient": "right",
                "title": "Chl-a (ng/m³)",
                "titleAngle": 270,
                "titleBaseline": "top",
                "values": [0, 0.1, 0.2, 0.3, 0.4, 0.5, 0.6, 0.7, 0.8, 0.9, 1, 1.1, 1.2, 1.3, 1.4, 1.5, 1.6, 1.7, 1.8, 1.9, 2, 2.1, 2.2, 2.3, 2.4, 2.5],
                "labelExpr": "round(datum.value * 10) % 5 === 0 ? format(datum.value, '~g') : ''",
                "tickSize": {"condition": {"test": "round(datum.value * 10) % 5 === 0", "value": 12}, "value": 6},
                "labelPadding": 9,
                "titlePadding": 17,
                "domainColor": "#00E000",
                "tickColor": "#00E000",
                "labelColor": "#00E000",
                "titleColor": "#00E000"
              }
            },
            "color": {"datum": "Chl-a", "type": "nominal"}
          }
        },
        {
          "data": {"name": "dmspTop"},
          "mark": {"type": "square", "size": 400, "opacity": 1},
          "encoding": {
            "y": {
              "field": "v",
              "type": "quantitative",
              "scale": {"domain": [0, 250], "nice": false},
              "axis": {
                "orient": "right",
                "offset": 123,
                "title": "DMSP (nMol/L)",
                "titleAngle": 270,
                "titleBaseline": "top",
                "values": [0, 10, 20, 30, 40, 50, 60, 70, 80, 90, 100, 110, 120, 130, 140, 150, 160, 170, 180, 190, 200, 210, 220, 230, 240, 250],
                "labelExpr": "datum.value % 50 === 0 ? format(datum.value, '~g') : ''",
                "tickSize": {"condition": {"test": "datum.value % 50 === 0", "value": 12}, "value": 6},
                "labelPadding": 10,
                "titlePadding": 10,
                "domainColor": "#0000A0",
                "tickColor": "#0000A0",
                "labelColor": "#0000A0",
                "titleColor": "#0000A0"
              }
            },
            "color": {"datum": "DMSP", "type": "nominal"}
          }
        }
      ],
      "resolve": {"scale": {"y": "independent"}}
    },
    {
      "width": 879,
      "height": 643,
      "encoding": {
        "x": {
          "field": "t",
          "type": "temporal",
          "scale": {"type": "utc", "domain": ["2019-11-15T00:00Z", "2020-02-01T00:00Z"]},
          "axis": {
            "title": null,
            "values": [1573776000000, 1573948800000, 1574121600000, 1574294400000, 1574467200000, 1574640000000, 1574812800000, 1574985600000, 1575158400000, 1575331200000, 1575504000000, 1575676800000, 1575849600000, 1576022400000, 1576195200000, 1576368000000, 1576540800000, 1576713600000, 1576886400000, 1577059200000, 1577232000000, 1577404800000, 1577577600000, 1577750400000, 1577923200000, 1578096000000, 1578268800000, 1578441600000, 1578614400000, 1578787200000, 1578960000000, 1579132800000, 1579305600000, 1579478400000, 1579651200000, 1579824000000, 1579996800000, 1580169600000, 1580342400000, 1580515200000],
            "labelExpr": "(datum.value - 1573776000000) % 864000000 === 0 ? utcFormat(datum.value, '%d/%m/%Y') : ''",
            "tickSize": {"condition": {"test": "(datum.value - 1573776000000) % 864000000 === 0", "value": 13}, "value": 6},
            "labelAngle": -45,
            "labelFontSize": 29,
            "labelPadding": 12,
            "labelOffset": 5,
            "domainColor": "black",
            "tickColor": "black",
            "labelColor": "black"
          }
        }
      },
      "layer": [
        {
          "data": {"name": "dmsBot"},
          "encoding": {
            "y": {
              "field": "v",
              "type": "quantitative",
              "scale": {"domain": [0, 40], "nice": false},
              "axis": {
                "orient": "left",
                "title": "DMS (nMol/m³)",
                "values": [0, 2, 4, 6, 8, 10, 12, 14, 16, 18, 20, 22, 24, 26, 28, 30, 32, 34, 36, 38, 40],
                "labelExpr": "datum.value % 10 === 0 ? format(datum.value, '~g') : ''",
                "tickSize": {"condition": {"test": "datum.value % 10 === 0", "value": 13}, "value": 6},
                "labelPadding": 9,
                "titlePadding": 10,
                "domainColor": "#00A6FF",
                "tickColor": "#00A6FF",
                "labelColor": "#00A6FF",
                "titleColor": "#00A6FF"
              }
            },
            "color": {
              "datum": "DMS",
              "type": "nominal",
              "scale": {"domain": ["DMS", "Chl-a", "DMSP"], "range": ["#00A6FF", "#00FF00", "#0000A0"]},
              "legend": {
                "title": null,
                "orient": "none",
                "legendX": 84,
                "legendY": 14,
                "labelFontSize": 34,
                "labelOffset": 33,
                "rowPadding": 10,
                "encode": {
                  "symbols": {
                    "update": {
                      "shape": {"signal": "datum.value === 'DMS' ? 'M-3.9,0H-0.75M0.75,0H3.9M0,-0.8L0.8,0.65L-0.8,0.65Z' : datum.value === 'Chl-a' ? 'circle' : 'square'"},
                      "size": {"signal": "datum.value === 'Chl-a' ? 346 : 400"},
                      "fill": {"signal": "datum.value === 'DMS' ? '#00A6FF' : datum.value === 'Chl-a' ? '#00FF00' : '#0000A0'"},
                      "stroke": {"signal": "datum.value === 'DMS' ? '#00A6FF' : 'transparent'"},
                      "strokeWidth": {"value": 2},
                      "opacity": {"value": 1}
                    }
                  },
                  "labels": {
                    "update": {
                      "fill": {"signal": "datum.value === 'DMS' ? '#00A6FF' : datum.value === 'Chl-a' ? '#00E000' : '#0000A0'"}
                    }
                  }
                }
              }
            }
          },
          "layer": [
            {"mark": {"type": "line", "strokeWidth": 2}},
            {"mark": {"type": "point", "shape": "triangle-up", "filled": true, "size": 300, "opacity": 1}}
          ]
        },
        {
          "data": {"name": "chlBot"},
          "mark": {"type": "circle", "size": 346, "opacity": 1},
          "encoding": {
            "y": {
              "field": "v",
              "type": "quantitative",
              "scale": {"domain": [0, 2.5], "nice": false},
              "axis": {
                "orient": "right",
                "title": "Chl-a (mg/m³)",
                "titleAngle": 270,
                "titleBaseline": "top",
                "values": [0, 0.1, 0.2, 0.3, 0.4, 0.5, 0.6, 0.7, 0.8, 0.9, 1, 1.1, 1.2, 1.3, 1.4, 1.5, 1.6, 1.7, 1.8, 1.9, 2, 2.1, 2.2, 2.3, 2.4, 2.5],
                "labelExpr": "round(datum.value * 10) % 5 === 0 ? format(datum.value, '~g') : ''",
                "tickSize": {"condition": {"test": "round(datum.value * 10) % 5 === 0", "value": 12}, "value": 6},
                "labelPadding": 9,
                "titlePadding": 17,
                "domainColor": "#00E000",
                "tickColor": "#00E000",
                "labelColor": "#00E000",
                "titleColor": "#00E000"
              }
            },
            "color": {"datum": "Chl-a", "type": "nominal"}
          }
        },
        {
          "data": {"name": "dmspBot"},
          "mark": {"type": "square", "size": 400, "opacity": 1},
          "encoding": {
            "y": {
              "field": "v",
              "type": "quantitative",
              "scale": {"domain": [0, 250], "nice": false},
              "axis": {
                "orient": "right",
                "offset": 123,
                "title": "DMSP (nMol/L)",
                "titleAngle": 270,
                "titleBaseline": "top",
                "values": [0, 10, 20, 30, 40, 50, 60, 70, 80, 90, 100, 110, 120, 130, 140, 150, 160, 170, 180, 190, 200, 210, 220, 230, 240, 250],
                "labelExpr": "datum.value % 50 === 0 ? format(datum.value, '~g') : ''",
                "tickSize": {"condition": {"test": "datum.value % 50 === 0", "value": 12}, "value": 6},
                "labelPadding": 10,
                "titlePadding": 10,
                "domainColor": "#0000A0",
                "tickColor": "#0000A0",
                "labelColor": "#0000A0",
                "titleColor": "#0000A0"
              }
            },
            "color": {"datum": "DMSP", "type": "nominal"}
          }
        }
      ],
      "resolve": {"scale": {"y": "independent"}}
    }
  ]
}
